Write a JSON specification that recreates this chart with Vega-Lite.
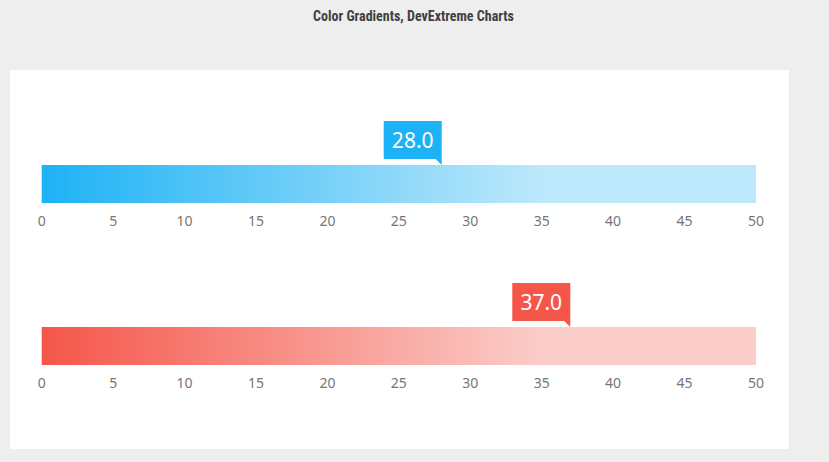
{
  "$schema": "https://vega.github.io/schema/vega-lite/v6.json",
  "width": 779,
  "height": 379,
  "autosize": "none",
  "padding": {"left": 10, "top": 70, "right": 40, "bottom": 13},
  "background": "#eeeeee",
  "view": {"fill": "white", "stroke": null},
  "title": {
    "text": "Color Gradients, DevExtreme Charts",
    "anchor": "middle",
    "frame": "group",
    "dx": 14,
    "offset": 46,
    "font": "Liberation Sans Narrow, Roboto Condensed, Roboto",
    "fontSize": 14,
    "fontWeight": "bold",
    "color": "#404040"
  },
  "datasets": {
    "gauges": [
      {"gauge": "blue", "start": 0, "end": 50, "value": 28},
      {"gauge": "red", "start": 0, "end": 50, "value": 37}
    ],
    "ticks": [
      {"gauge": "blue", "tick": 0}, {"gauge": "blue", "tick": 5}, {"gauge": "blue", "tick": 10},
      {"gauge": "blue", "tick": 15}, {"gauge": "blue", "tick": 20}, {"gauge": "blue", "tick": 25},
      {"gauge": "blue", "tick": 30}, {"gauge": "blue", "tick": 35}, {"gauge": "blue", "tick": 40},
      {"gauge": "blue", "tick": 45}, {"gauge": "blue", "tick": 50},
      {"gauge": "red", "tick": 0}, {"gauge": "red", "tick": 5}, {"gauge": "red", "tick": 10},
      {"gauge": "red", "tick": 15}, {"gauge": "red", "tick": 20}, {"gauge": "red", "tick": 25},
      {"gauge": "red", "tick": 30}, {"gauge": "red", "tick": 35}, {"gauge": "red", "tick": 40},
      {"gauge": "red", "tick": 45}, {"gauge": "red", "tick": 50}
    ]
  },
  "layer": [
    {
      "data": {"name": "gauges"},
      "transform": [{"filter": "datum.gauge === 'blue'"}],
      "mark": {
        "type": "rect",
        "color": {
          "gradient": "linear", "x1": 0, "x2": 1, "y1": 0, "y2": 0,
          "stops": [
            {"offset": 0, "color": "#1db2f5"},
            {"offset": 0.7, "color": "#bde8fb"},
            {"offset": 1, "color": "#bde8fb"}
          ]
        }
      },
      "encoding": {
        "x": {"field": "start", "type": "quantitative", "scale": {"domain": [-2.219, 52.311], "nice": false, "zero": false}, "axis": null},
        "x2": {"field": "end"},
        "y": {"field": "gauge", "type": "nominal", "scale": {"domain": ["blue", "red"], "paddingInner": 0.76543, "paddingOuter": 0.55247, "align": 0.53073}, "axis": null}
      }
    },
    {
      "data": {"name": "gauges"},
      "transform": [{"filter": "datum.gauge === 'red'"}],
      "mark": {
        "type": "rect",
        "color": {
          "gradient": "linear", "x1": 0, "x2": 1, "y1": 0, "y2": 0,
          "stops": [
            {"offset": 0, "color": "#f5564a"},
            {"offset": 0.7, "color": "#fbcdc9"},
            {"offset": 1, "color": "#fbcdc9"}
          ]
        }
      },
      "encoding": {
        "x": {"field": "start", "type": "quantitative", "axis": null},
        "x2": {"field": "end"},
        "y": {"field": "gauge", "type": "nominal", "axis": null}
      }
    },
    {
      "data": {"name": "gauges"},
      "mark": {
        "type": "point",
        "shape": "M-58,-44H0V0L-6,-6H-58Z",
        "size": 4,
        "filled": true,
        "opacity": 1,
        "strokeWidth": 0,
        "yOffset": -19
      },
      "encoding": {
        "x": {"field": "value", "type": "quantitative", "axis": null},
        "y": {"field": "gauge", "type": "nominal", "axis": null},
        "color": {"field": "gauge", "type": "nominal", "scale": {"domain": ["blue", "red"], "range": ["#1db2f5", "#f5564a"]}, "legend": null}
      }
    },
    {
      "data": {"name": "gauges"},
      "mark": {
        "type": "text",
        "dx": -29,
        "dy": -42,
        "align": "center",
        "baseline": "middle",
        "font": "Noto Sans",
        "fontSize": 21,
        "color": "white"
      },
      "encoding": {
        "x": {"field": "value", "type": "quantitative", "axis": null},
        "y": {"field": "gauge", "type": "nominal", "axis": null},
        "text": {"field": "value", "type": "quantitative", "format": ".1f"}
      }
    },
    {
      "data": {"name": "ticks"},
      "mark": {
        "type": "text",
        "dy": 38,
        "align": "center",
        "baseline": "middle",
        "font": "Noto Sans",
        "fontSize": 14,
        "color": "#767676"
      },
      "encoding": {
        "x": {"field": "tick", "type": "quantitative", "axis": null},
        "y": {"field": "gauge", "type": "nominal", "axis": null},
        "text": {"field": "tick", "type": "quantitative"}
      }
    }
  ]
}
